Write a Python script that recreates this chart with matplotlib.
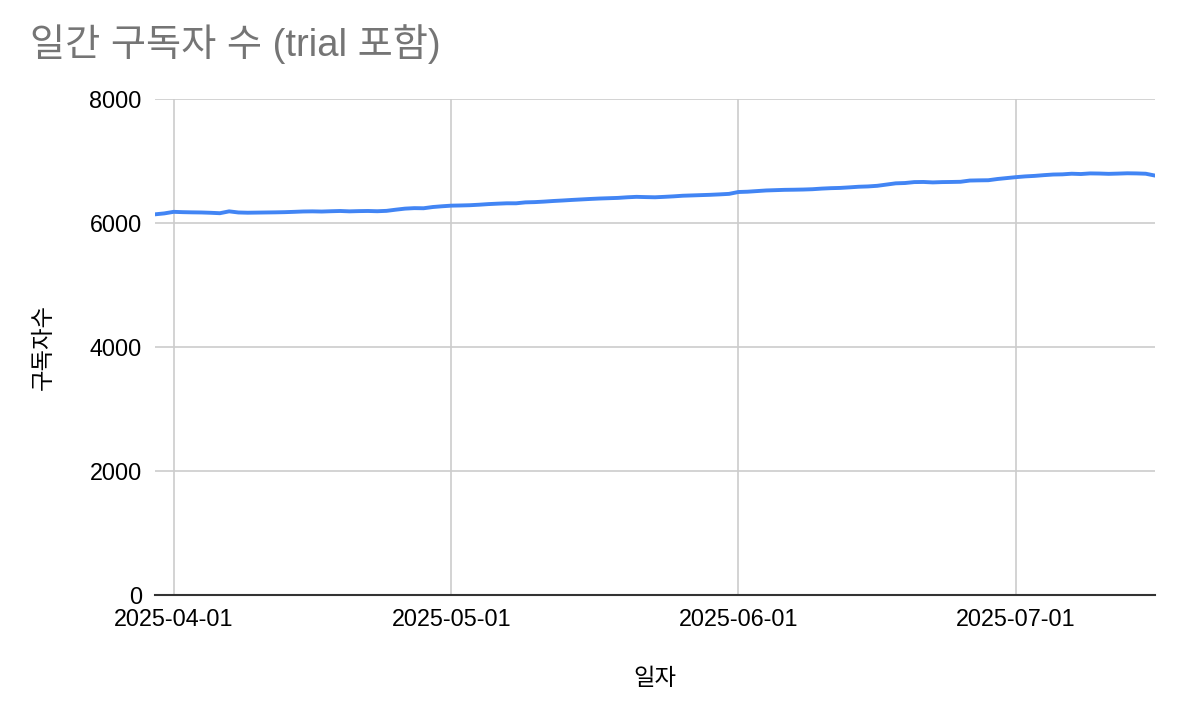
import matplotlib
matplotlib.use("Agg")
import matplotlib.pyplot as plt
import matplotlib.dates as mdates
import numpy as np
import pandas as pd

plt.rcParams['font.family'] = ['Liberation Sans', 'Noto Sans CJK KR', 'DejaVu Sans']

start_date = "2025-03-30"
subscribers = [
    6140, 6155,
    # April
    6180, 6175, 6172, 6170, 6165, 6158, 6188, 6170, 6166, 6168,
    6170, 6172, 6175, 6180, 6186, 6188, 6185, 6190, 6194, 6188,
    6192, 6194, 6190, 6196, 6215, 6232, 6240, 6238, 6258, 6270,
    # May
    6280, 6283, 6287, 6295, 6305, 6312, 6318, 6318, 6333, 6337,
    6345, 6355, 6363, 6372, 6380, 6388, 6395, 6400, 6405, 6415,
    6422, 6418, 6415, 6422, 6430, 6440, 6445, 6450, 6455, 6462, 6470,
    # June
    6500, 6505, 6515, 6525, 6530, 6535, 6537, 6540, 6545, 6555,
    6562, 6566, 6575, 6585, 6590, 6600, 6620, 6640, 6645, 6660,
    6662, 6655, 6660, 6662, 6665, 6685, 6688, 6690, 6710, 6725,
    # July
    6740, 6752, 6760, 6772, 6782, 6785, 6795, 6790, 6800, 6798,
    6793, 6797, 6802, 6800, 6795, 6765,
]
dates = pd.date_range(start_date, periods=len(subscribers), freq="D")

x_ticks = ["2025-04-01", "2025-05-01", "2025-06-01", "2025-07-01"]
y_ticks = [0, 2000, 4000, 6000, 8000]

title = "일간 구독자 수 (trial 포함)"
x_label = "일자"
y_label = "구독자수"

fig = plt.figure(figsize=(11.8, 7.18), dpi=100)
ax = fig.add_axes([0.1314, 0.1713, 0.8474, 0.6908])

ax.plot(dates, subscribers, color="#4285F4", linewidth=2.8, solid_capstyle="round")

ax.set_xlim(pd.Timestamp(start_date), dates[-1])
ax.set_ylim(0, 8000)
ax.set_xticks([pd.Timestamp(t) for t in x_ticks])
ax.set_xticklabels(x_ticks)
ax.set_yticks(y_ticks)
ax.set_yticklabels([str(v) for v in y_ticks])

ax.grid(True, color="#cccccc", linewidth=1.2)
ax.set_axisbelow(True)
for s in ["top", "right", "left"]:
    ax.spines[s].set_visible(False)
ax.spines["bottom"].set_color("#333333")
ax.spines["bottom"].set_linewidth(1.5)
ax.spines["bottom"].set_zorder(3)
ax.tick_params(axis="both", length=0, labelsize=16.8, colors="#000000")
ax.tick_params(axis="x", pad=9)
ax.tick_params(axis="y", pad=9.5)

ax.set_xlabel(x_label, fontsize=16.8, labelpad=26)
ax.set_ylabel(y_label, fontsize=16.8, labelpad=25)

fig.text(30 / 1180, 1 - 44 / 718, title, fontsize=27.5, color="#757575",
         ha="left", va="center")

fig.savefig("out.png", dpi=100)
